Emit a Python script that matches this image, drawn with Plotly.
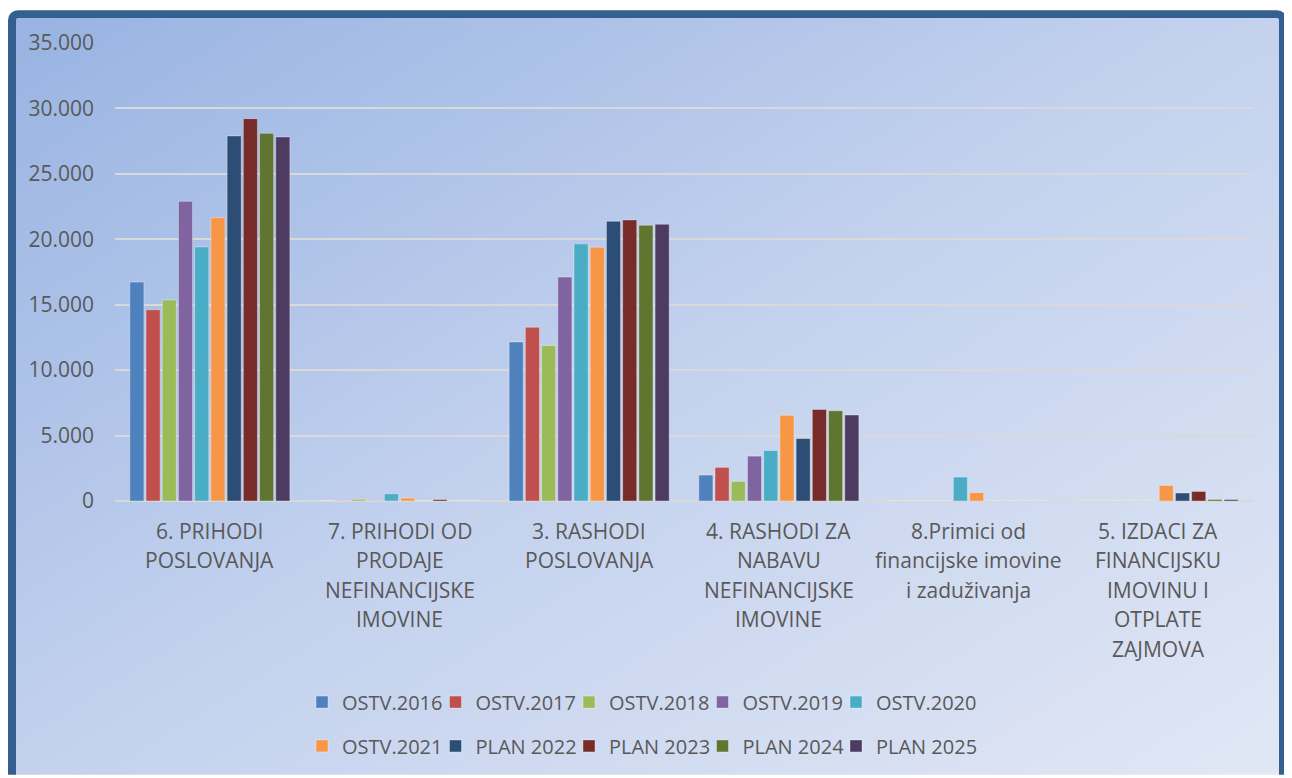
import base64
import plotly.graph_objects as go

# ---------------- data ----------------
CATEGORIES = [
    "6. PRIHODI<br>POSLOVANJA",
    "7. PRIHODI OD<br>PRODAJE<br>NEFINANCIJSKE<br>IMOVINE",
    "3. RASHODI<br>POSLOVANJA",
    "4. RASHODI ZA<br>NABAVU<br>NEFINANCIJSKE<br>IMOVINE",
    "8.Primici od<br>financijske imovine<br>i zaduživanja",
    "5. IZDACI ZA<br>FINANCIJSKU<br>IMOVINU I<br>OTPLATE<br>ZAJMOVA",
]
SERIES_NAMES = ["OSTV.2016", "OSTV.2017", "OSTV.2018", "OSTV.2019", "OSTV.2020",
                "OSTV.2021", "PLAN 2022", "PLAN 2023", "PLAN 2024", "PLAN 2025"]
OSTV_2016 = [16730, 0, 12160, 1980, 0, 0]
OSTV_2017 = [14620, 30, 13280, 2570, 0, 0]
OSTV_2018 = [15360, 130, 11880, 1500, 0, 0]
OSTV_2019 = [22900, 30, 17110, 3430, 0, 0]
OSTV_2020 = [19420, 550, 19650, 3860, 1830, 0]
OSTV_2021 = [21650, 220, 19400, 6550, 640, 1190]
PLAN_2022 = [27900, 0, 21380, 4770, 0, 610]
PLAN_2023 = [29220, 110, 21480, 7000, 0, 730]
PLAN_2024 = [28100, 0, 21070, 6900, 0, 120]
PLAN_2025 = [27820, 0, 21150, 6570, 0, 110]
SERIES_VALUES = [OSTV_2016, OSTV_2017, OSTV_2018, OSTV_2019, OSTV_2020,
                 OSTV_2021, PLAN_2022, PLAN_2023, PLAN_2024, PLAN_2025]
Y_TICKS = [0, 5000, 10000, 15000, 20000, 25000, 30000, 35000]

# ---------------- style ----------------
COLORS = ["#4f81bd", "#c0504d", "#9bbb59", "#8064a2", "#4bacc6",
          "#f79646", "#2c4d75", "#772c2a", "#5f7530", "#4d3b62"]
FONT = "Open Sans"
TXT = "#595959"
OFF = 8                      # page body margin
W, H = 1292 - OFF, 778 - OFF
ML, MR, MT, MB = 107, 39, 35, 275
PW, PH = W - ML - MR, H - MT - MB
LEG_X0, LEG_DX = 302, 133.5
LEG_ROWS_Y = [705, 749]


def px_x(X):  # window pixel -> paper x
    return (X - OFF - ML) / PW


def px_y(Y):  # window pixel -> paper y
    return (H - MB - (Y - OFF)) / PH


svg = f'''<svg xmlns="http://www.w3.org/2000/svg" width="{W}" height="{H}" viewBox="0 0 {W} {H}">
<defs><linearGradient id="g" x1="0" y1="0" x2="1" y2="1">
<stop offset="0" stop-color="#98b3e2"/>
<stop offset="0.5" stop-color="#c4d2ee"/>
<stop offset="1" stop-color="#e2e8f5"/>
</linearGradient></defs>
<rect x="0" y="0" width="{W}" height="{H}" fill="#ffffff"/>
<rect x="4" y="6" width="1271" height="{H + 20}" rx="6" ry="6" fill="url(#g)" stroke="#365f91" stroke-width="8"/>
</svg>'''
src = "data:image/svg+xml;base64," + base64.b64encode(svg.encode()).decode()


def legend_id(i):
    return "legend" if i == 0 else f"legend{i + 1}"


fig = go.Figure()
for i, (name, vals) in enumerate(zip(SERIES_NAMES, SERIES_VALUES)):
    fig.add_trace(go.Bar(
        x=CATEGORIES, y=vals, name=name, showlegend=True,
        marker=dict(color=COLORS[i], line=dict(color="rgba(255,255,255,0.35)", width=1)),
        legend=legend_id(i),
    ))

# category labels line by line
for cat in CATEGORIES:
    for j, line in enumerate(cat.split("<br>")):
        fig.add_annotation(x=cat, xref="x", y=px_y(533 + 29.6 * j), yref="paper",
                           text=line, showarrow=False, yanchor="middle",
                           font=dict(family=FONT, size=21, color=TXT))

legends = {}
for i in range(len(SERIES_NAMES)):
    row, col = divmod(i, 5)
    legends[legend_id(i)] = dict(
        orientation="h", xanchor="left", yanchor="middle",
        x=px_x(LEG_X0 + LEG_DX * col), y=px_y(LEG_ROWS_Y[row]),
        font=dict(family=FONT, size=20, color=TXT),
        bgcolor="rgba(0,0,0,0)", itemclick=False,
    )

fig.update_layout(
    width=W, height=H,
    showlegend=True,
    margin=dict(l=ML, r=MR, t=MT, b=MB, pad=0),
    paper_bgcolor="white",
    plot_bgcolor="rgba(0,0,0,0)",
    barmode="group", bargap=0.145, bargroupgap=0.13,
    separators=",.",
    font=dict(family=FONT, size=21, color=TXT),
    images=[dict(source=src, xref="paper", yref="paper",
                 x=px_x(OFF), y=px_y(OFF), sizex=W / PW, sizey=H / PH,
                 xanchor="left", yanchor="top", sizing="stretch", layer="below")],
    xaxis=dict(showticklabels=False, showgrid=False, zeroline=False, showline=False,
               ticks=""),
    yaxis=dict(range=[0, 35000], tickvals=Y_TICKS, tickformat=",d",
               showgrid=True, gridcolor="#d9d9d9", gridwidth=2,
               zeroline=True, zerolinecolor="#d9d9d9", zerolinewidth=2,
               showline=False, ticks="", ticklabelstandoff=20,
               tickfont=dict(family=FONT, size=21, color=TXT)),
    **legends,
)

fig.write_html("out.html")
